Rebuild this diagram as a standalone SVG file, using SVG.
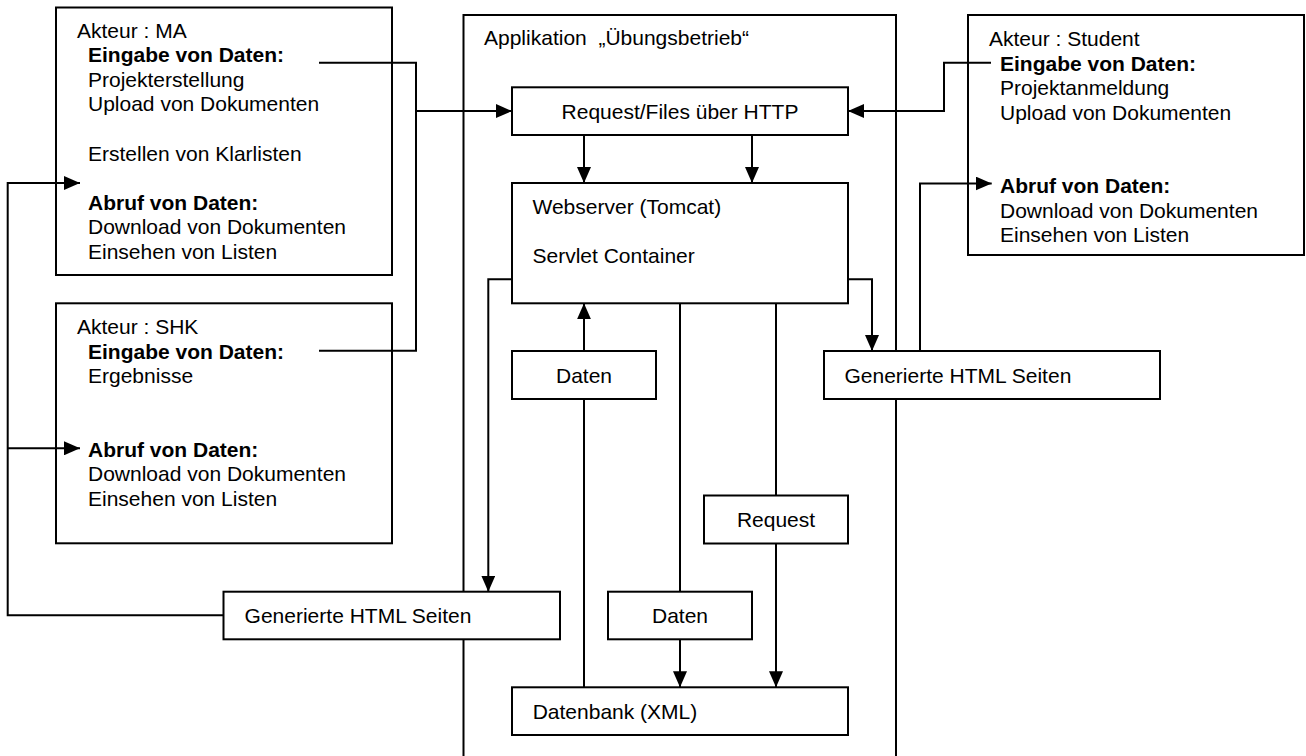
<svg xmlns="http://www.w3.org/2000/svg" width="1306" height="756" viewBox="0 0 1306 756">
<style>
  .box { fill: #ffffff; stroke: #000000; stroke-width: 2; }
  .frame { fill: none; stroke: #000000; stroke-width: 2; }
  .con { fill: none; stroke: #000000; stroke-width: 2; }
  .arr { marker-end: url(#ah); }
  text { font-family: "Liberation Sans", Arial, sans-serif; font-size: 21px; fill: #000000; }
  .b { font-weight: bold; }
  .c { text-anchor: middle; }
</style>
<defs>
  <marker id="ah" markerUnits="userSpaceOnUse" markerWidth="16" markerHeight="14" viewBox="0 0 16 14" refX="16" refY="7" orient="auto">
    <path d="M0,0 L16,7 L0,14 z" fill="#000000"/>
  </marker>
</defs>
<rect width="1306" height="756" fill="#ffffff"/>

<g id="app">
  <rect class="frame" x="463.5" y="15" width="432.5" height="760"/>
  <text x="484" y="45" xml:space="preserve">Applikation  „Übungsbetrieb“</text>
</g>

<g id="ma">
  <rect class="box" x="56" y="7.5" width="336" height="267.5"/>
  <text x="77" y="37.5">Akteur : MA</text>
  <text class="b" x="88" y="62.1">Eingabe von Daten:</text>
  <text x="88" y="86.7">Projekterstellung</text>
  <text x="88" y="111.3">Upload von Dokumenten</text>
  <text x="88" y="160.5">Erstellen von Klarlisten</text>
  <text class="b" x="88" y="209.7">Abruf von Daten:</text>
  <text x="88" y="234.3">Download von Dokumenten</text>
  <text x="88" y="258.9">Einsehen von Listen</text>
</g>

<g id="shk">
  <rect class="box" x="56" y="303.3" width="336" height="240"/>
  <text x="77" y="334">Akteur : SHK</text>
  <text class="b" x="88" y="358.5">Eingabe von Daten:</text>
  <text x="88" y="383">Ergebnisse</text>
  <text class="b" x="88" y="456.5">Abruf von Daten:</text>
  <text x="88" y="481">Download von Dokumenten</text>
  <text x="88" y="505.5">Einsehen von Listen</text>
</g>

<g id="student">
  <rect class="box" x="968" y="15" width="336" height="240"/>
  <text x="989" y="46">Akteur : Student</text>
  <text class="b" x="1000" y="70.5">Eingabe von Daten:</text>
  <text x="1000" y="95">Projektanmeldung</text>
  <text x="1000" y="119.5">Upload von Dokumenten</text>
  <text class="b" x="1000" y="193">Abruf von Daten:</text>
  <text x="1000" y="217.5">Download von Dokumenten</text>
  <text x="1000" y="242">Einsehen von Listen</text>
</g>

<g id="request-http">
  <rect class="box" x="512" y="87.3" width="336" height="47.7"/>
  <text class="c" x="680" y="118.5">Request/Files über HTTP</text>
</g>

<g id="webserver">
  <rect class="box" x="512" y="183" width="336" height="120.3"/>
  <text x="532.5" y="214">Webserver (Tomcat)</text>
  <text x="532.5" y="263.3">Servlet Container</text>
</g>

<g id="daten-oben">
  <rect class="box" x="512" y="351" width="144" height="48"/>
  <text class="c" x="584" y="382.5">Daten</text>
</g>

<g id="html-rechts">
  <rect class="box" x="824" y="351" width="336" height="48"/>
  <text x="844.5" y="382.5">Generierte HTML Seiten</text>
</g>

<g id="request">
  <rect class="box" x="704" y="495.5" width="144" height="48"/>
  <text class="c" x="776" y="527">Request</text>
</g>

<g id="html-links">
  <rect class="box" x="223.5" y="591.7" width="336.5" height="47.6"/>
  <text x="244.6" y="623">Generierte HTML Seiten</text>
</g>

<g id="daten-unten">
  <rect class="box" x="608" y="591.7" width="144" height="47.6"/>
  <text class="c" x="680" y="623">Daten</text>
</g>

<g id="datenbank">
  <rect class="box" x="512" y="687.3" width="336" height="47.7"/>
  <text x="532.7" y="719">Datenbank (XML)</text>
</g>

<g id="connectors">
  <path class="con" d="M319,62.7 H416 V350.7 H319"/>
  <path class="con arr" d="M416,111 H512"/>
  <path class="con arr" d="M991,62.7 H944 V111 H848"/>
  <path class="con arr" d="M584,135 V183"/>
  <path class="con arr" d="M752,135 V183"/>
  <path class="con arr" d="M512,279.3 H488.3 V591.7"/>
  <path class="con arr" d="M223.5,615.3 H7.7 V183 H80"/>
  <path class="con arr" d="M7.7,448.3 H80"/>
  <path class="con arr" d="M848,279.3 H872 V351"/>
  <path class="con arr" d="M920,351 V183.5 H991.7"/>
  <path class="con arr" d="M584,351 V303.3"/>
  <path class="con" d="M584,687.3 V399"/>
  <path class="con" d="M680,303.3 V591.7"/>
  <path class="con arr" d="M680,639.3 V687.3"/>
  <path class="con" d="M776,303.3 V495.5"/>
  <path class="con arr" d="M776,543.5 V687.3"/>
</g>
</svg>
